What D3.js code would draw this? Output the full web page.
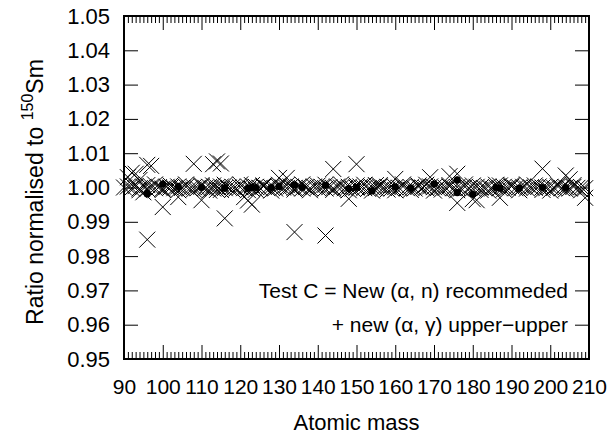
<!DOCTYPE html>
<html>
<head>
<meta charset="utf-8">
<script src="https://cdn.jsdelivr.net/npm/d3@7/dist/d3.min.js"></script>
<style>
  body { margin: 0; background: #fff; }
  text { font-family: "Liberation Sans", Arial, Helvetica, sans-serif; fill: #000; }
</style>
</head>
<body>
<svg id="chart" width="613" height="434"></svg>
<script>
// Tick values
const xMajorTicks = [90, 100, 110, 120, 130, 140, 150, 160, 170, 180, 190, 200, 210];
const yMajorTicks = [0.95, 0.96, 0.97, 0.98, 0.99, 1.00, 1.01, 1.02, 1.03, 1.04, 1.05];

// Ratio for every isobar chain (atomic mass, ratio normalised to 150Sm)
const bandPoints = [
  [90,1.0000],[91,1.0003],[92,0.9998],[93,1.0004],[94,0.9997],[95,1.0002],[96,0.9995],[97,1.0003],[98,0.9998],[99,1.0001],
  [100,0.9997],[101,1.0002],[102,1.0000],[103,0.9998],[104,1.0003],[105,0.9999],[106,1.0002],[107,0.9997],[108,1.0001],[109,0.9998],
  [110,1.0004],[111,0.9999],[112,1.0002],[113,0.9997],[114,1.0001],[115,1.0003],[116,0.9998],[117,1.0000],[118,1.0002],[119,0.9997],
  [120,1.0001],[121,0.9998],[122,1.0003],[123,0.9996],[124,1.0002],[125,0.9999],[126,1.0003],[127,0.9998],[128,1.0001],[129,0.9997],
  [130,1.0002],[131,1.0000],[132,0.9998],[133,1.0003],[134,0.9999],[135,1.0002],[136,0.9997],[137,1.0001],[138,0.9998],[139,1.0003],
  [140,0.9999],[141,1.0002],[142,0.9997],[143,1.0001],[144,0.9998],[145,1.0003],[146,1.0000],[147,0.9998],[148,1.0002],[149,0.9997],
  [150,1.0000],[151,1.0003],[152,0.9998],[153,0.9996],[154,1.0001],[155,0.9998],[156,1.0003],[157,0.9999],[158,1.0002],[159,0.9997],
  [160,1.0001],[161,0.9999],[162,1.0003],[163,0.9998],[164,1.0001],[165,0.9997],[166,1.0002],[167,1.0000],[168,0.9998],[169,1.0003],
  [170,1.0001],[171,0.9998],[172,1.0002],[173,0.9999],[174,1.0003],[175,0.9998],[176,1.0001],[177,0.9997],[178,1.0002],[179,0.9999],
  [180,0.9997],[181,1.0002],[182,1.0000],[183,0.9998],[184,1.0003],[185,0.9997],[186,1.0001],[187,0.9998],[188,1.0002],[189,0.9999],
  [190,1.0003],[191,0.9998],[192,1.0000],[193,1.0002],[194,0.9997],[195,1.0001],[196,0.9999],[197,1.0003],[198,1.0000],[199,0.9998],
  [200,1.0002],[201,0.9999],[202,1.0003],[203,0.9998],[204,1.0001],[205,0.9997],[206,1.0002],[207,0.9999],[208,1.0001],[209,0.9998]
];

// Second isotopes sharing a mass number
const isobarPoints = [
  [92,1.0008],[94,0.9992],[96,1.0007],[98,1.0009],[100,0.9993],[102,1.0006],[104,0.9992],[106,1.0009],[108,0.9994],[110,1.0007],
  [112,0.9991],[113,1.0006],[114,0.9993],[115,0.9993],[116,1.0008],[118,0.9994],[120,1.0009],[122,0.9992],[123,1.0007],[124,0.9993],
  [126,1.0006],[128,0.9991],[130,1.0008],[132,1.0007],[134,0.9994],[136,1.0009],[138,0.9992],[140,1.0006],[142,1.0008],[144,0.9993],
  [146,1.0009],[148,0.9992],[150,1.0006],[152,1.0008],[154,0.9991],[155,1.0007],[156,1.0007],[158,0.9994],[160,0.9992],[162,1.0009],
  [164,0.9993],[166,1.0006],[168,1.0008],[170,0.9991],[172,0.9994],[174,1.0007],[176,0.9992],[178,1.0009],[180,1.0006],[182,0.9993],
  [184,0.9991],[186,1.0008],[187,1.0006],[188,0.9994],[190,1.0007],[192,0.9992],[194,1.0009],[196,1.0006],[198,0.9993],[200,0.9991],
  [202,1.0008],[204,0.9994],[206,1.0007],[208,0.9992]
];

// Isotopes that deviate clearly from the baseline
const outlierPoints = [
  [91,1.0030],[92,1.0043],[93,1.0040],[94,1.0022],[95,0.9986],[96,1.0066],[97,1.0063],[96,0.9848],[100,0.9943],[104,0.9972],
  [108,1.0069],[110,0.9963],[113,1.0068],[114,1.0076],[115,1.0070],[116,0.9910],[121,0.9972],[122,0.9962],[123,0.9950],[130,1.0028],
  [132,1.0028],[134,0.9870],[142,0.9860],[144,1.0054],[148,0.9967],[150,1.0068],[160,1.0025],[169,1.0030],[174,1.0033],[176,1.0040],
  [176,0.9955],[180,0.9966],[181,0.9963],[187,0.9970],[198,1.0055],[204,1.0035],[205,1.0024],[209,0.9970]
];

// s-only isotopes (filled circles)
const sOnlyPoints = [
  [96,0.9984],[96,0.9981],[100,1.0010],[104,1.0003],[110,1.0000],[116,0.9998],[122,0.9998],[123,1.0000],[124,1.0000],[128,1.0000],
  [130,1.0003],[134,1.0008],[136,1.0000],[142,1.0006],[148,0.9997],[150,1.0000],[154,0.9990],[160,1.0002],[164,0.9999],[170,1.0010],
  [176,1.0022],[176,0.9985],[180,0.9980],[186,1.0000],[187,0.9998],[192,0.9998],[198,1.0000],[204,1.0000]
];

const legendLines = ["Test C = New (\u03b1, n) recommeded", "+ new (\u03b1, \u03b3) upper\u2212upper"];

const plot = { left: 124, right: 589, top: 16, bottom: 359 };
const svg = d3.select("#chart");

const x = d3.scaleLinear().domain([90, 210]).range([plot.left, plot.right]);
const y = d3.scaleLinear().domain([0.95, 1.05]).range([plot.bottom, plot.top]);

const xMinorTicks = [];
for (let v = 90; v <= 210; v += 1) if (v % 10 !== 0) xMinorTicks.push(v);

function styleAxis(size) {
  return g => {
    g.select(".domain").remove();
    g.selectAll(".tick line").attr("stroke", "#000").attr("stroke-width", 1);
    g.selectAll(".tick text").attr("font-size", size).attr("font-family", null);
  };
}

// bottom axis (labelled) and top mirror
svg.append("g").attr("transform", `translate(0,${plot.bottom})`)
  .call(d3.axisBottom(x).tickValues(xMajorTicks).tickSize(-14).tickPadding(20).tickFormat(d3.format("d")))
  .call(styleAxis(21));
svg.append("g").attr("transform", `translate(0,${plot.bottom})`)
  .call(d3.axisBottom(x).tickValues(xMinorTicks).tickSize(-7).tickFormat(""))
  .call(styleAxis(21));
svg.append("g").attr("transform", `translate(0,${plot.top})`)
  .call(d3.axisTop(x).tickValues(xMajorTicks).tickSize(-14).tickFormat(""))
  .call(styleAxis(21));
svg.append("g").attr("transform", `translate(0,${plot.top})`)
  .call(d3.axisTop(x).tickValues(xMinorTicks).tickSize(-7).tickFormat(""))
  .call(styleAxis(21));

// left axis (labelled) and right mirror
svg.append("g").attr("transform", `translate(${plot.left},0)`)
  .call(d3.axisLeft(y).tickValues(yMajorTicks).tickSize(-14).tickPadding(14).tickFormat(d3.format(".2f")))
  .call(styleAxis(22));
svg.append("g").attr("transform", `translate(${plot.right},0)`)
  .call(d3.axisRight(y).tickValues(yMajorTicks).tickSize(-14).tickFormat(""))
  .call(styleAxis(22));

// frame
svg.append("rect")
  .attr("x", plot.left).attr("y", plot.top)
  .attr("width", plot.right - plot.left).attr("height", plot.bottom - plot.top)
  .attr("fill", "none").attr("stroke", "#000").attr("stroke-width", 2);

// crosses
const crossPath = "M-8,-8L8,8M-8,8L8,-8";
const allCrosses = bandPoints.concat(isobarPoints, outlierPoints);
svg.append("g").selectAll("path")
  .data(allCrosses)
  .join("path")
  .attr("d", crossPath)
  .attr("transform", d => `translate(${x(d[0])},${y(d[1])})`)
  .attr("fill", "none")
  .attr("stroke", "#000")
  .attr("stroke-width", 1);

// filled circles
svg.append("g").selectAll("circle")
  .data(sOnlyPoints)
  .join("circle")
  .attr("cx", d => x(d[0]))
  .attr("cy", d => y(d[1]))
  .attr("r", 3.6)
  .attr("fill", "#000");

// legend text, right aligned inside the frame
svg.append("g").selectAll("text")
  .data(legendLines)
  .join("text")
  .attr("x", plot.right - 21)
  .attr("y", (d, i) => plot.bottom - 68 + i * 34)
  .attr("dy", "0.35em")
  .attr("text-anchor", "end")
  .attr("font-size", 21)
  .text(d => d);

// axis titles
svg.append("text")
  .attr("x", (plot.left + plot.right) / 2)
  .attr("y", 430)
  .attr("text-anchor", "middle")
  .attr("font-size", 22)
  .text("Atomic mass");

const yTitle = svg.append("text")
  .attr("transform", `translate(43,192) rotate(-90)`)
  .attr("text-anchor", "middle")
  .attr("font-size", 23);
yTitle.append("tspan").text("Ratio normalised to ");
yTitle.append("tspan").attr("font-size", 16).attr("dy", -10).text("150");
yTitle.append("tspan").attr("dy", 10).text("Sm");
</script>
</body>
</html>
